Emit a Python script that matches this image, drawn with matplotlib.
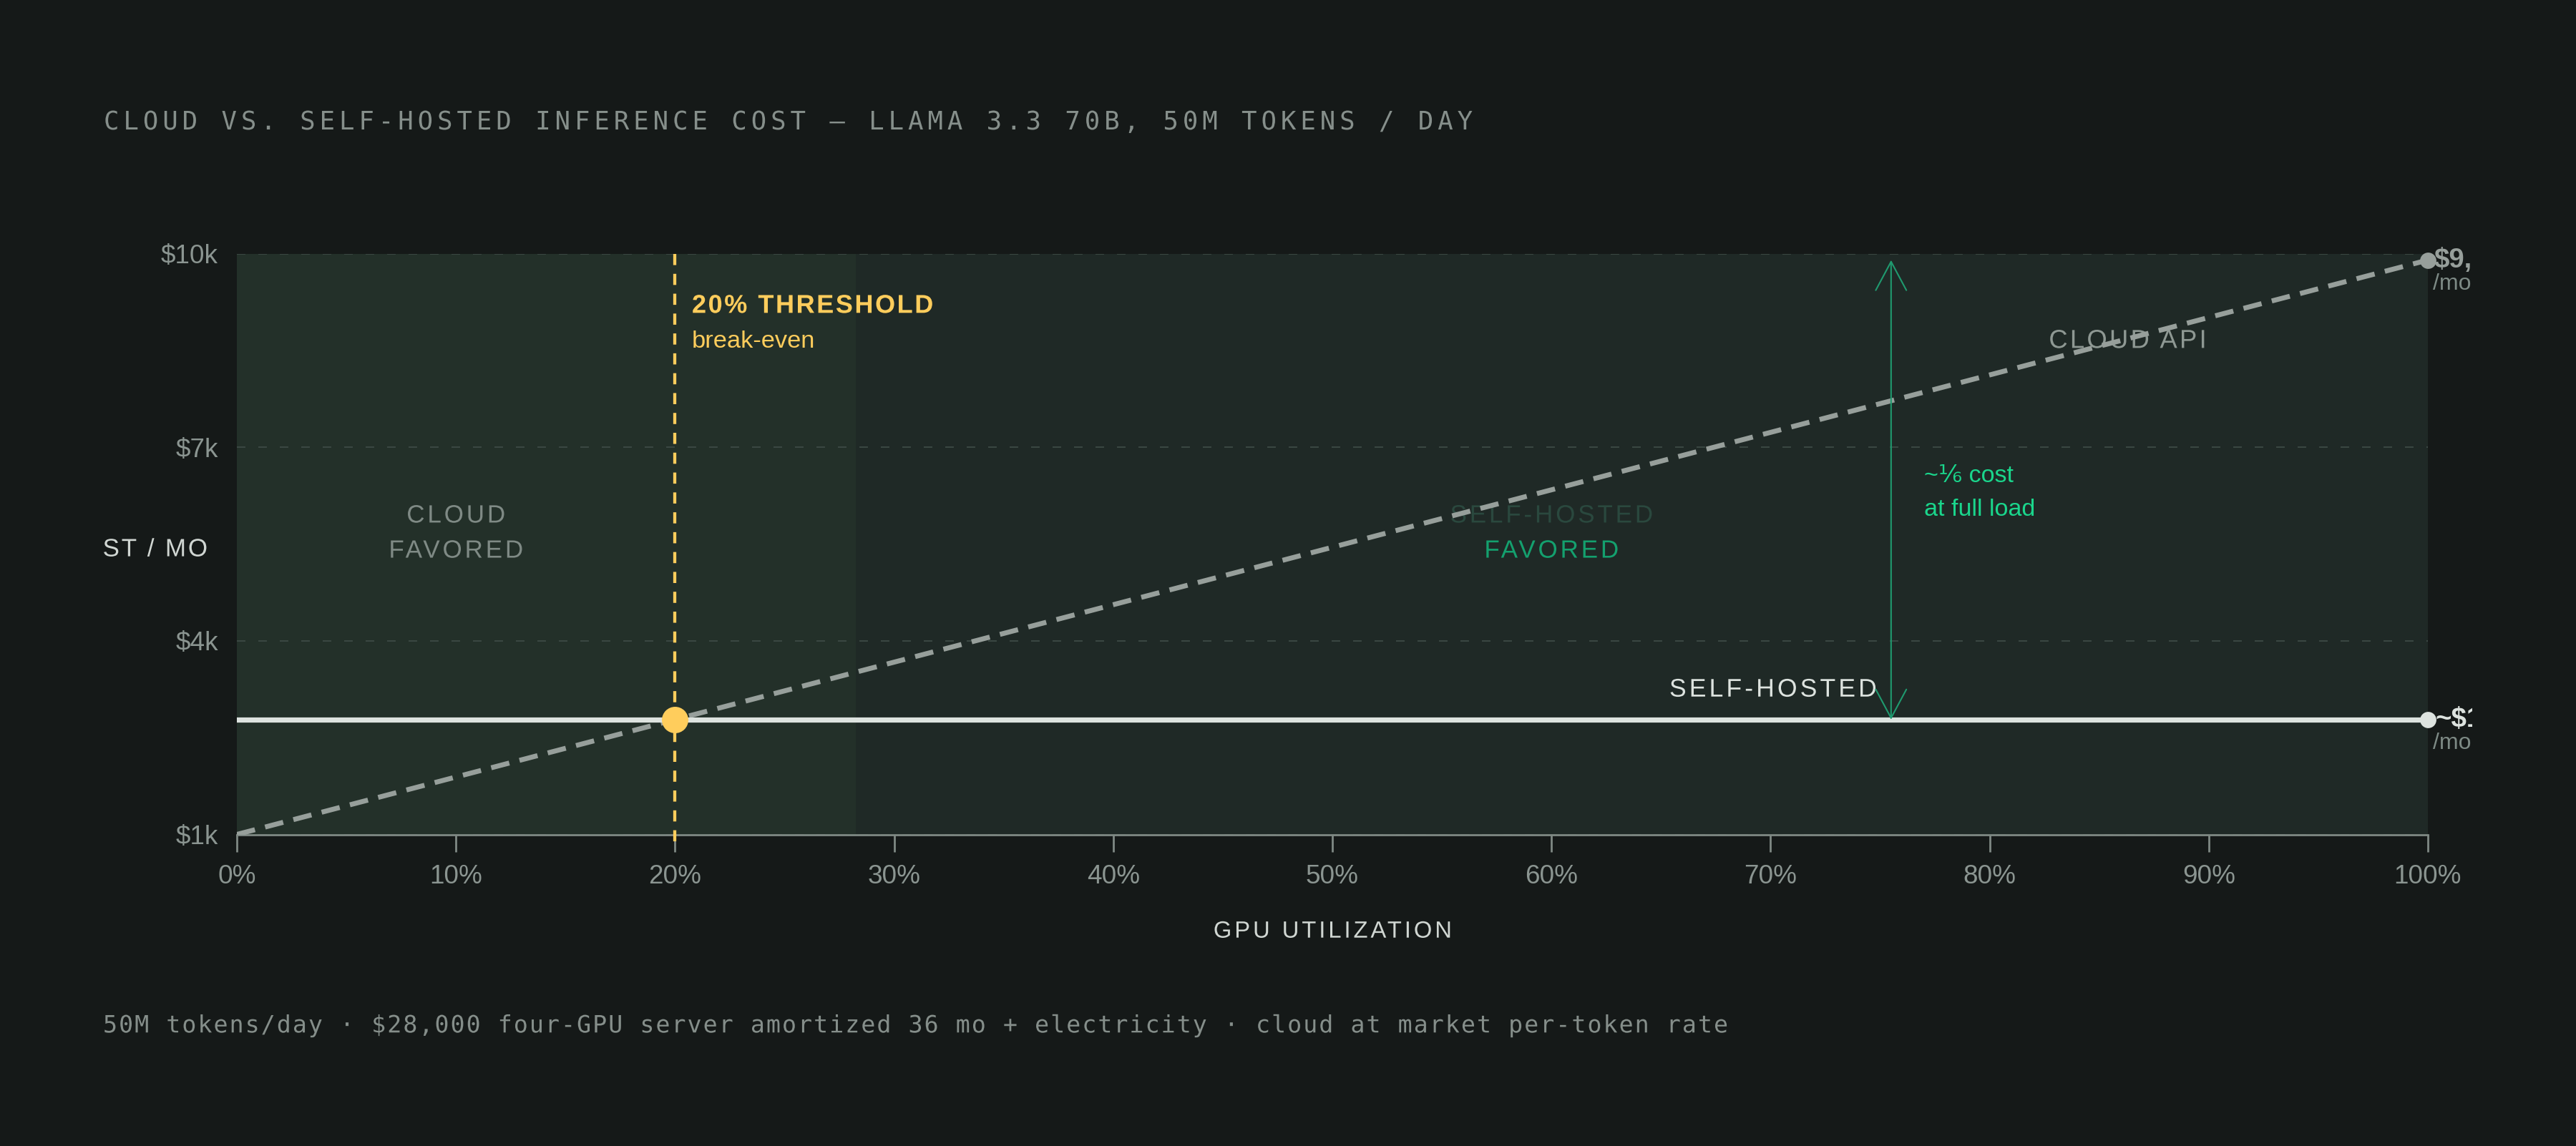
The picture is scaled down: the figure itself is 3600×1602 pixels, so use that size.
import numpy as np
import matplotlib
matplotlib.use("Agg")
import matplotlib.pyplot as plt
from matplotlib.patheffects import AbstractPathEffect
from matplotlib.textpath import TextToPath
from matplotlib.path import Path
from matplotlib.patches import FancyArrowPatch, ArrowStyle
from matplotlib.transforms import Bbox, TransformedBbox, offset_copy

# ---------------- data ----------------
utilization = [0, 10, 20, 30, 40, 50, 60, 70, 80, 90, 100]
cloud_cost = [1000, 1890, 2780, 3670, 4560, 5450, 6340, 7230, 8120, 9010, 9900]
self_hosted_cost = [2780, 2780, 2780, 2780, 2780, 2780, 2780, 2780, 2780, 2780, 2780]
x_tick_labels = ["0%", "10%", "20%", "30%", "40%", "50%", "60%", "70%", "80%", "90%", "100%"]
y_ticks = [1000, 4000, 7000, 10000]
y_tick_labels = ["$1k", "$4k", "$7k", "$10k"]
breakeven_util = 20
breakeven_cost = 2780
cloud_region_end = 28.25
gap_arrow_util = 75.5

title_text = "CLOUD VS. SELF-HOSTED INFERENCE COST \u2014 LLAMA 3.3 70B, 50M TOKENS / DAY"
footer_text = ("50M tokens/day \u00b7 $28,000 four-GPU server amortized 36 mo + electricity "
               "\u00b7 cloud at market per-token rate")

# ---------------- style ----------------
BG = "#151918"
PLOT_BG = "#1f2926"
CLOUD_BG = "#233029"
GRID = "#3b4843"
AXIS = "#7f8984"
TICK_TXT = "#8b9591"
CLOUD_C = "#979f9b"
SELF_C = "#dde3df"
YELLOW = "#ffcd5c"
GREEN = "#1f9a6f"
GREEN_TXT = "#1ad68c"

plt.rcParams["font.family"] = ["Liberation Sans", "DejaVu Sans"]
plt.rcParams["lines.scale_dashes"] = False

_t2p = TextToPath()


class Tracking(AbstractPathEffect):
    """Adds letter spacing (in em) to a single-line text."""

    def __init__(self, artist, em):
        super().__init__()
        self.artist = artist
        self.em = em

    def draw_path(self, renderer, gc, tpath, affine, rgbFace=None):
        s = self.artist.get_text()
        prop = self.artist.get_fontproperties()
        counts = []
        for ch in s:
            v, c = _t2p.get_text_path(prop, ch)
            counts.append(int(np.sum(np.asarray(c) == Path.MOVETO)) if len(c) else 0)
        verts = np.array(tpath.vertices, dtype=float)
        codes = tpath.codes
        n = len(s)
        step = self.em * _t2p.FONT_SCALE
        total = step * (n - 1)
        ha = self.artist.get_horizontalalignment()
        base = {"left": 0.0, "center": -total / 2.0, "right": -total}.get(ha, 0.0)
        if codes is not None and sum(counts) > 0:
            char_of_contour = np.repeat(np.arange(n), counts)
            contour_idx = np.cumsum(np.asarray(codes) == Path.MOVETO) - 1
            contour_idx = np.clip(contour_idx, 0, len(char_of_contour) - 1)
            idx = char_of_contour[contour_idx]
            verts[:, 0] += base + idx * step
        renderer.draw_path(gc, Path(verts, codes), affine, rgbFace)


def track(t, em):
    t.set_path_effects([Tracking(t, em)])
    return t


fig = plt.figure(figsize=(18, 8.01), dpi=200, facecolor=BG)
L, R = 331 / 3600, 3393 / 3600
B, T = 1 - 1166.5 / 1602, 1 - 354.5 / 1602
ax = fig.add_axes([L, B, R - L, T - B])
ax.set_facecolor(PLOT_BG)
ax.set_xlim(utilization[0], utilization[-1])
ax.set_ylim(y_ticks[0], y_ticks[-1])

# regions
ax.axvspan(utilization[0], cloud_region_end, color=CLOUD_BG, lw=0, zorder=0)

# grid
for yv in y_ticks:
    ax.axhline(yv, color=GRID, lw=0.7, linestyle=(0, (4.3, 6.5)), zorder=1)

# spines / ticks
for s in ["left", "top", "right"]:
    ax.spines[s].set_visible(False)
ax.spines["bottom"].set_color(AXIS)
ax.spines["bottom"].set_linewidth(1.0)
ax.spines["bottom"].set_zorder(1.5)
ax.set_xticks(utilization, x_tick_labels)
ax.set_yticks(y_ticks, y_tick_labels)
ax.tick_params(axis="x", length=8.6, width=1.0, color=AXIS, pad=6.3,
               labelsize=13.3, labelcolor=TICK_TXT)
ax.tick_params(axis="y", length=0, pad=9.4, labelsize=13.3, labelcolor=TICK_TXT)

# threshold line (extends just below the axis)
ax.plot([breakeven_util, breakeven_util], [1.0, -0.022], transform=ax.get_xaxis_transform(),
        color=YELLOW, lw=1.55, linestyle=(0, (5.6, 4.4)), clip_on=False, zorder=2.6)

# series
ax.plot(utilization, cloud_cost, color=CLOUD_C, lw=2.5, linestyle=(0, (9.4, 5.3)),
        zorder=4, solid_capstyle="butt", dash_capstyle="butt")
ax.plot(utilization, self_hosted_cost, color=SELF_C, lw=2.6, zorder=4)
ax.plot([utilization[-1]], [cloud_cost[-1]], "o", ms=8.2, color=CLOUD_C, mew=0,
        clip_on=False, zorder=5)
ax.plot([utilization[-1]], [self_hosted_cost[-1]], "o", ms=8.2, color=SELF_C, mew=0,
        clip_on=False, zorder=5)
ax.plot([breakeven_util], [breakeven_cost], "o", ms=13.3, color=YELLOW, mew=0,
        clip_on=False, zorder=6)

# gap arrow
arr = FancyArrowPatch((gap_arrow_util, self_hosted_cost[-1]), (gap_arrow_util, cloud_cost[-1]),
                      arrowstyle=ArrowStyle("<->", head_length=14.4, head_width=7.7),
                      mutation_scale=1, lw=0.75, color=GREEN, shrinkA=0, shrinkB=0, zorder=4.5)
ax.add_patch(arr)

xa = ax.get_xaxis_transform()   # x data, y axes
# in-plot labels
track(ax.text(10, 0.537, "CLOUD", transform=xa, ha="center", va="baseline",
              fontsize=12.6, color="#7f8a85", zorder=2), 0.11)
track(ax.text(10, 0.4765, "FAVORED", transform=xa, ha="center", va="baseline",
              fontsize=12.6, color="#7f8a85", zorder=2), 0.11)
track(ax.text(60, 0.537, "SELF-HOSTED", transform=xa, ha="center", va="baseline",
              fontsize=12.6, color="#2a483e", zorder=2), 0.11)
track(ax.text(60, 0.4765, "FAVORED", transform=xa, ha="center", va="baseline",
              fontsize=12.6, color="#14a06e", zorder=2), 0.11)
track(ax.text(86.3, 0.8376, "CLOUD API", transform=xa, ha="center", va="baseline",
              fontsize=13.1, color="#8e9893", zorder=2), 0.09)
track(ax.text(70.1, 0.2374, "SELF-HOSTED", transform=xa, ha="center", va="baseline",
              fontsize=12.8, color=SELF_C, zorder=2), 0.115)
track(ax.text(20.77, 0.898, "20% THRESHOLD", transform=xa, ha="left", va="baseline",
              fontsize=13.0, fontweight="bold", color=YELLOW, zorder=2), 0.07)
ax.text(20.77, 0.8376, "break-even", transform=xa, ha="left", va="baseline",
        fontsize=12.4, color=YELLOW, zorder=2)
ax.text(77.0, 0.6066, "~\u2159 cost", transform=xa, ha="left", va="baseline",
        fontsize=12.3, color=GREEN_TXT, zorder=2)
ax.text(77.0, 0.5486, "at full load", transform=xa, ha="left", va="baseline",
        fontsize=12.3, color=GREEN_TXT, zorder=2)

# end labels (clipped like the reference)
clipbox = TransformedBbox(Bbox([[0, 0], [3455 / 3600, 1]]), fig.transFigure)
end_labels = [
    ("$9,", cloud_cost[-1], CLOUD_C, 3.0),
    ("~$1", self_hosted_cost[-1], SELF_C, 3.8),
]
for lbl, yv, col, dx in end_labels:
    t1 = fig.text(utilization[-1], yv, lbl,
                  transform=offset_copy(ax.transData, fig, x=dx, y=0, units="points"),
                  ha="left", va="center", fontsize=13.8, fontweight="bold", color=col)
    t2 = fig.text(utilization[-1], yv, "/mo",
                  transform=offset_copy(ax.transData, fig, x=2.4, y=-12.0, units="points"),
                  ha="left", va="center", fontsize=11.5, color="#7d8a85")
    for t in (t1, t2):
        t.set_clip_on(True)
        t.set_clip_box(clipbox)

# axis labels
track(fig.text((L + R) / 2, 1 - 1310.7 / 1602, "GPU UTILIZATION", ha="center", va="baseline",
               fontsize=11.8, color="#d0d6d2"), 0.12)
track(fig.text(143.6 / 3600, 1 - 777.6 / 1602, "ST / MO", ha="left", va="baseline",
               fontsize=12.6, color="#d0d6d2"), 0.08)

# title and footer
track(fig.text(145 / 3600, 1 - 181 / 1602, title_text, ha="left", va="baseline",
               fontsize=12.85, family="DejaVu Sans Mono", color="#868f8b"), 0.166)
track(fig.text(144 / 3600, 1 - 1443.3 / 1602, footer_text, ha="left", va="baseline",
               fontsize=12.0, family="DejaVu Sans Mono", color="#858e8a"), 0.06)

fig.savefig("out.png", dpi=200, facecolor=BG)
